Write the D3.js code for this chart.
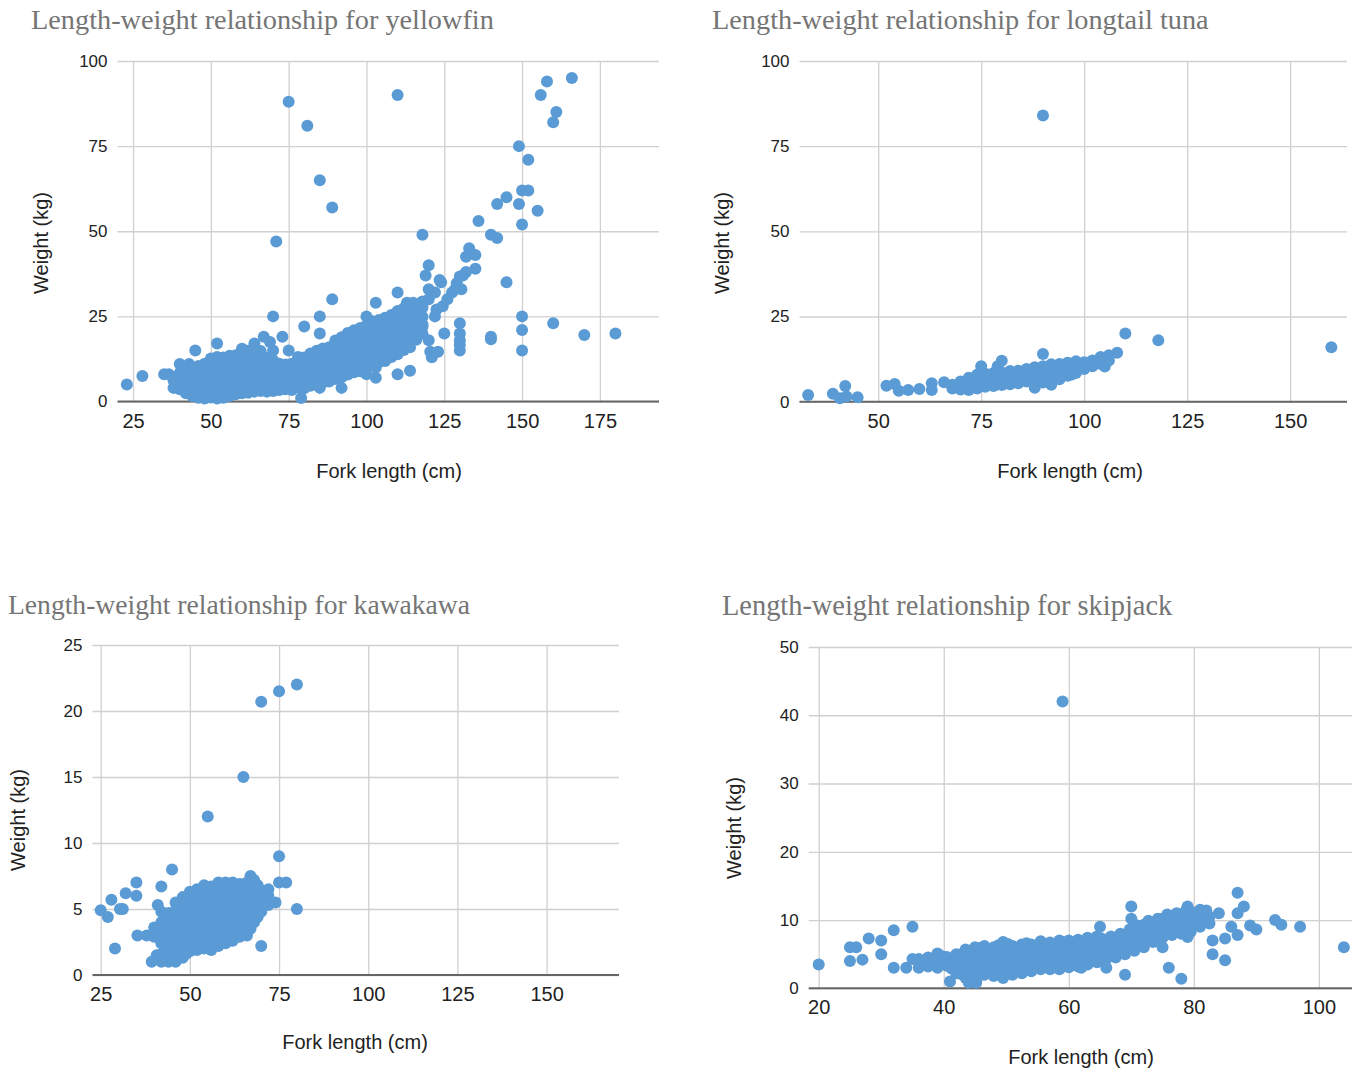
<!DOCTYPE html>
<html>
<head>
<meta charset="utf-8">
<script src="https://cdn.jsdelivr.net/npm/d3@7.9.0/dist/d3.min.js"></script>
<style>
  body { margin: 0; background: #fff; }
  svg { display: block; }
  .ptitle { font-family: "Liberation Serif", "Times New Roman", serif; fill: #757575; }
  .atitle { font-family: "Liberation Sans", Arial, sans-serif; fill: #222; }
  .tick text { font-family: "Liberation Sans", Arial, sans-serif; fill: #222; }
</style>
</head>
<body>
<svg id="chart" width="1352" height="1069"></svg>
<script>
const titles = [
    'Length-weight relationship for yellowfin',
    'Length-weight relationship for longtail tuna',
    'Length-weight relationship for kawakawa',
    'Length-weight relationship for skipjack'
];
const xLabel = 'Fork length (cm)';
const yLabel = 'Weight (kg)';

const yellowfinXTicks = [25, 50, 75, 100, 125, 150, 175];
const longtailXTicks = [50, 75, 100, 125, 150];
const kawakawaXTicks = [25, 50, 75, 100, 125, 150];
const skipjackXTicks = [20, 40, 60, 80, 100];
const yellowfinYTicks = [0, 25, 50, 75, 100];
const longtailYTicks = [0, 25, 50, 75, 100];
const kawakawaYTicks = [0, 5, 10, 15, 20, 25];
const skipjackYTicks = [0, 10, 20, 30, 40, 50];

// [fork length cm, weight kg]
const yellowfin = [
    [38,4],[38,6.2],[40,3.6],[40,6],[40,8.4],[42,2.4],[42,5.1],[42,7.4],[42,9.6],
    [44,1.6],[44,4.2],[44,6.4],[44,8.8],[46,1.1],[46,3.4],[46,6.1],[46,8.6],[46,10.4],
    [48,0.9],[48,3.6],[48,5.9],[48,8.4],[48,11.1],[50,1.2],[50,3.4],[50,6.2],[50,8.7],[50,10.9],[50,12.6],
    [52,0.9],[52,3.6],[52,5.8],[52,8.4],[52,11.2],[52,13.1],[54,1.1],[54,3.4],[54,6.1],[54,8.6],[54,10.8],[54,12.9],
    [56,1.6],[56,4.1],[56,6.4],[56,9.1],[56,11.6],[56,13.4],[58,2.1],[58,4.4],[58,7.1],[58,9.4],[58,12.1],[58,13.6],
    [60,2.4],[60,5.1],[60,7.4],[60,10.1],[60,12.4],[60,14.1],[62,2.6],[62,4.9],[62,7.6],[62,9.9],[62,12.6],[62,14.9],
    [64,2.9],[64,5.6],[64,7.9],[64,10.6],[64,12.9],[64,15.1],[66,3.1],[66,5.4],[66,8.1],[66,10.4],[66,13.1],[66,14.8],
    [68,2.9],[68,5.6],[68,7.9],[68,10.6],[68,12.8],[70,3.1],[70,5.4],[70,8.1],[70,10.4],[70,12.1],
    [72,3.4],[72,6.1],[72,8.4],[72,11.1],[74,3.6],[74,5.9],[74,8.6],[74,10.9],[76,3.4],[76,6.1],[76,8.4],[76,11.1],
    [78,4.1],[78,6.4],[78,9.1],[78,11.4],[78,13.1],[80,3.9],[80,6.6],[80,8.9],[80,11.6],[80,12.9],
    [82,4.6],[82,6.9],[82,9.6],[82,11.9],[82,14.1],[84,4.9],[84,7.6],[84,9.9],[84,12.6],[84,14.9],
    [86,5.6],[86,7.9],[86,10.6],[86,12.9],[86,15.6],[88,5.9],[88,8.6],[88,10.9],[88,13.6],[88,15.9],
    [90,6.6],[90,8.9],[90,11.6],[90,13.9],[90,16.6],[90,17.9],[92,7.1],[92,9.4],[92,12.1],[92,14.4],[92,17.1],[92,18.9],
    [94,7.9],[94,10.6],[94,12.9],[94,15.6],[94,17.9],[94,20.1],[96,8.6],[96,10.9],[96,13.6],[96,15.9],[96,18.6],[96,20.9],
    [98,8.9],[98,11.6],[98,13.9],[98,16.6],[98,18.9],[98,21.6],[100,10.1],[100,12.4],[100,15.1],[100,17.4],[100,20.1],[100,22.4],
    [102,10.9],[102,13.6],[102,15.9],[102,18.6],[102,20.9],[102,23.6],[104,11.6],[104,13.9],[104,16.6],[104,18.9],[104,21.6],[104,23.9],
    [106,11.9],[106,14.6],[106,16.9],[106,19.6],[106,21.9],[106,24.6],[108,13.1],[108,15.4],[108,18.1],[108,20.4],[108,23.1],[108,25.4],
    [110,13.9],[110,16.6],[110,18.9],[110,21.6],[110,23.9],[110,26.6],[112,15.1],[112,17.4],[112,20.1],[112,22.4],[112,25.1],[112,27.4],
    [114,15.9],[114,18.6],[114,20.9],[114,23.6],[114,25.9],[114,28.6],[116,18.1],[116,20.4],[116,23.1],[116,25.4],[116,28.1],
    [118,19.9],[118,22.6],[118,24.9],[118,27.6],[118,29.4],
    [23,5],[28,7.5],[35,8],[36.5,8],[40,11],[43,11],[45,15],[52,17],[60,15.5],[64,17],[67,19],[69,17.5],
    [70,15],[71,47],[70,25],[73,19],[75,15],[75,88],[80,22],[81,81],[85,25],[85,20],[85,65],[89,57],[89,30],
    [92,4],[79,1],[85,4],[100,25],[103,29],[103,10],[103,7],[100,8],[110,8],[114,9],[110,32],[110,90],
    [113,29],[115,29],[116,20],[118,22],[112,17],[107.5,14],[118,49],[119,37],[120,40],[120,30],[120,33],[122,32],
    [120,18],[120.5,14.6],[123,14.6],[121,13],[122,25],[122.5,27],[124.5,28],[125,20],[123.5,35.7],[124,35],
    [126,30],[127.5,32],[128.5,33],[129,34.7],[130,36.7],[130.5,33],[131,37],[132,38],[132,42.5],[133,45],
    [135,43],[135,39],[136,53],[130,23],[130,20],[130,18],[130,16.6],[130,15],[140,19],[140,18.3],[140,49],
    [142,48],[142,58],[145,60],[145,35],[149,58],[149,75],[150,62],[152,62],[150,52],[152,71],[155,56],
    [156,90],[158,94],[160,82],[161,85],[166,95],[150,25],[150,21],[150,15],[160,23],[170,19.5],[180,20]
];

const longtail = [
    [33,2],[39,2.3],[42,4.6],[40.7,1],[42.3,1.5],[45,1.3],[52,4.7],[54,5.2],[55,3.2],[57.3,3.4],[60,3.7],
    [63,5.4],[63,3.4],[66,5.7],[75,10.4],[79,10.4],[80,12],[90,14],[105,10.3],[108,14.4],[110,20],[118,18],
    [160,16],[90,84],[88,4.1],[92,5],[96,7.8],[97,8],
    [68,3.9],[68,5],[70,3.6],[70,5.9],[72,3.4],[72,5.6],[72,7],[74,3.9],[74,6.1],[74,7.9],
    [76,4.4],[76,6.6],[76,8.2],[78,4.6],[78,6.9],[78,8.4],[80,4.9],[80,7.1],[80,8.6],
    [82,5.1],[82,7.4],[82,9],[84,5.4],[84,7.6],[84,9.1],[86,5.9],[86,8.1],[86,9.6],
    [88,4.6],[88,6.9],[88,9.1],[88,10.1],[90,5.6],[90,7.9],[90,10.4],[92,5.4],[92,7.6],[92,9.9],[92,11],
    [94,6.6],[94,8.9],[94,11.1],[96,7.6],[96,9.9],[96,11.4],[98,8.4],[98,10.6],[98,11.9],
    [100,9.6],[100,11.6],[102,10.4],[102,12.1],[104,11.1],[104,13.1],[106,12.1],[106,13.6]
];

const kawakawa = [
    [25,4.9],[27,4.4],[28,5.7],[30.4,5],[31.2,5],[32,6.2],[35,7],[35,6],[29,2],[35.3,3],[37.9,3],
    [42,6.7],[45,8],[41,5.3],[42,4.8],[75,9],[75,7],[77,7],[80,5],[70,2.2],[55,12],[65,15],
    [70,20.7],[75,21.5],[80,22],[39.3,1],[40.7,1.5],
    [40,2.9],[40,3.6],[42,1],[42,1.6],[42,2.4],[42,3.2],[42,4],
    [44,1],[44,1.7],[44,2.4],[44,3.3],[44,4],[44,4.7],
    [46,1],[46,1.7],[46,2.5],[46,3.3],[46,4.1],[46,4.9],[46,5.5],
    [48,1.3],[48,2.1],[48,2.9],[48,3.7],[48,4.5],[48,5.3],[48,5.9],
    [50,1.8],[50,2.6],[50,3.4],[50,4.2],[50,5],[50,5.8],[50,6.3],
    [52,1.9],[52,2.7],[52,3.5],[52,4.3],[52,5.1],[52,5.9],[52,6.5],
    [54,2],[54,2.8],[54,3.6],[54,4.4],[54,5.2],[54,6],[54,6.8],
    [56,1.9],[56,2.7],[56,3.5],[56,4.3],[56,5.1],[56,5.9],[56,6.7],
    [58,2.2],[58,3],[58,3.8],[58,4.6],[58,5.4],[58,6.2],[58,7],
    [60,2.4],[60,3.2],[60,4],[60,4.8],[60,5.6],[60,6.4],[60,7],
    [62,2.6],[62,3.4],[62,4.2],[62,5],[62,5.8],[62,6.6],[62,7],
    [64,2.9],[64,3.7],[64,4.5],[64,5.3],[64,6.1],[64,6.9],
    [66,3],[66,3.8],[66,4.6],[66,5.4],[66,6.2],[66,7],[67,3.5],[67,7.5],
    [68,4],[68,4.8],[68,5.6],[68,6.4],[68,7.2],[70,4.8],[70,5.6],[70,6.4],
    [72,5.3],[72,6],[72,6.5],[74,5.5],
    [43,1.3],[43,2.1],[43,2.9],[43,3.7],[45,1.3],[45,2.1],[45,2.9],[45,3.7],[45,4.5],
    [47,1.4],[47,2.2],[47,3],[47,3.8],[47,4.6],[47,5.4],[49,1.6],[49,2.4],[49,3.2],[49,4],[49,4.8],[49,5.6],
    [51,2.2],[51,3],[51,3.8],[51,4.6],[51,5.4],[51,6.2],[53,2.4],[53,3.2],[53,4],[53,4.8],[53,5.6],[53,6.4],
    [55,2.3],[55,3.1],[55,3.9],[55,4.7],[55,5.5],[55,6.3],[57,2.3],[57,3.1],[57,3.9],[57,4.7],[57,5.5],[57,6.3],
    [59,2.6],[59,3.4],[59,4.2],[59,5],[59,5.8],[59,6.6],[61,2.8],[61,3.6],[61,4.4],[61,5.2],[61,6],[61,6.8],
    [63,3.1],[63,3.9],[63,4.7],[63,5.5],[63,6.3],[65,3.3],[65,4.1],[65,4.9],[65,5.7],[65,6.5],
    [69,4.4],[69,5.2],[69,6],[69,6.8]
];

const skipjack = [
    [20,3.5],[25,6],[26,6],[25,4],[27,4.2],[28,7.3],[30,7],[30,5],[32,8.5],[32,3],[34,3],[35,9],[35,4.3],
    [41,1],[44,1.9],[44,0.8],[45.2,0.8],[70,12],[70,10.2],[87,14],[88,12],[87,11],[93,10],[94,9.3],[97,9],
    [104,6],[89,9.2],[90,8.6],[87,7.8],[85,7.3],[85,4.1],[83,5],[83,7],[86,9],[84,11],[82,11.4],[79,12],
    [76,3],[78,1.4],[75,6],[69,2],[66,3],[72,6],[65,9],[62,3],[79,7.5],[59,42],
    [36,3],[36,4.3],[37.5,3.2],[37.5,4.5],[39,3],[39,4.3],[39,5.1],[40.5,3.3],[40.5,4.6],
    [42,2.2],[42,3.6],[42,5],[43.5,1.5],[43.5,2.9],[43.5,4.3],[43.5,5.7],
    [45,1.2],[45,2.6],[45,4],[45,5.4],[45,6],[46.5,2],[46.5,3.4],[46.5,4.8],[46.5,6.2],
    [48,1.8],[48,3.2],[48,4.6],[48,6],[49.5,1.5],[49.5,2.9],[49.5,4.3],[49.5,5.7],[49.5,6.8],
    [51,2],[51,3.4],[51,4.8],[51,6.2],[52.5,2.2],[52.5,3.6],[52.5,5],[52.5,6.4],
    [54,2.5],[54,3.9],[54,5.3],[54,6.4],[55.5,2.8],[55.5,4.2],[55.5,5.6],[55.5,6.9],
    [57,2.8],[57,4.2],[57,5.6],[57,6.7],[58.5,2.8],[58.5,4.2],[58.5,5.6],[58.5,7],
    [60,3.1],[60,4.5],[60,5.9],[60,7],[61.5,3.2],[61.5,4.6],[61.5,6],[61.5,7.1],
    [63,3.5],[63,4.9],[63,6.3],[63,7.4],[64.5,3.8],[64.5,5.2],[64.5,6.6],[64.5,7.6],
    [66,4.3],[66,5.7],[66,7.1],[67.5,4.5],[67.5,5.9],[67.5,7.3],[69,5],[69,6.4],[69,7.8],
    [70.5,5.5],[70.5,6.9],[70.5,8.3],[70.5,9.4],[72,6.5],[72,7.9],[72,9.3],
    [73.5,6.8],[73.5,8.2],[73.5,9.6],[75,7.4],[75,8.8],[75,10.2],[76.5,7.8],[76.5,9.2],[76.5,10.6],
    [78,8],[78,9.4],[78,10.8],[79.5,8.3],[79.5,9.7],[79.5,11.2],[81,9],[81,10.4],[81,11.5],
    [82.5,9.5],[82.5,10.5],
    [36.75,3.6],[38.25,3.8],[39.75,3.6],[39.75,4.7],[41.25,2.9],[41.25,4.2],
    [42.75,2.1],[42.75,3.6],[42.75,5],[44.25,1.3],[44.25,2.7],[44.25,4.1],[44.25,5.5],
    [45.75,1.9],[45.75,3.3],[45.75,4.7],[45.75,5.9],[47.25,2.5],[47.25,3.9],[47.25,5.3],
    [48.75,2.2],[48.75,3.6],[48.75,5],[48.75,6.3],[50.25,2.4],[50.25,3.8],[50.25,5.2],[50.25,6.5],
    [51.75,2.8],[51.75,4.2],[51.75,5.6],[53.25,3],[53.25,4.4],[53.25,5.8],[53.25,6.6],
    [54.75,3.3],[54.75,4.7],[54.75,6.1],[56.25,3.5],[56.25,4.9],[56.25,6.3],
    [57.75,3.5],[57.75,4.9],[57.75,6.3],[59.25,3.6],[59.25,5],[59.25,6.4],
    [60.75,3.8],[60.75,5.2],[60.75,6.6],[62.25,4],[62.25,5.4],[62.25,6.8],
    [63.75,4.3],[63.75,5.7],[63.75,7],[65.25,4.6],[65.25,6],[65.25,7.3],
    [66.75,5],[66.75,6.4],[66.75,7.6],[68.25,5.3],[68.25,6.7],[68.25,8],
    [69.75,5.8],[69.75,7.2],[69.75,8.6],[71.25,6.3],[71.25,7.7],[71.25,9.1],
    [72.75,7.2],[72.75,8.6],[72.75,9.9],[74.25,7.5],[74.25,8.9],[74.25,10.2],
    [75.75,8.1],[75.75,9.5],[75.75,10.8],[77.25,8.6],[77.25,10],[77.25,11],
    [78.75,8.8],[78.75,10.2],[78.75,11.4],[80.25,9.2],[80.25,10.6],[81.75,9.8],[81.75,11]
];

// layout of the four panels
const panels = [
    { title: titles[0], data: yellowfin, xTicks: yellowfinXTicks, yTicks: yellowfinYTicks,
      xDomain: [20, 194], yDomain: [0, 100],
      left: 117.5, right: 659, top: 61, bottom: 401.5, titleSize: 28.3,
      titlePos: [31, 29], yLabelPos: [41, 243], xLabelPos: [389, 478] },
    { title: titles[1], data: longtail, xTicks: longtailXTicks, yTicks: longtailYTicks,
      xDomain: [30.9, 163.8], yDomain: [0, 100],
      left: 799.5, right: 1347, top: 61, bottom: 401.7, titleSize: 28.3,
      titlePos: [712, 29], yLabelPos: [722, 243], xLabelPos: [1070, 478] },
    { title: titles[2], data: kawakawa, xTicks: kawakawaXTicks, yTicks: kawakawaYTicks,
      xDomain: [22.7, 170.3], yDomain: [0, 25],
      left: 92.5, right: 619, top: 645, bottom: 975, titleSize: 27.6,
      titlePos: [8, 614], yLabelPos: [18, 820], xLabelPos: [355, 1049] },
    { title: titles[3], data: skipjack, xTicks: skipjackXTicks, yTicks: skipjackYTicks,
      xDomain: [18.4, 105.3], yDomain: [0, 50],
      left: 808.7, right: 1352, top: 647, bottom: 988.3, titleSize: 28.4,
      titlePos: [722, 615], yLabelPos: [734, 828], xLabelPos: [1081, 1064] }
];

const svg = d3.select('#chart');

panels.forEach((p) => {
    const x = d3.scaleLinear().domain(p.xDomain).range([p.left, p.right]);
    const y = d3.scaleLinear().domain(p.yDomain).range([p.bottom, p.top]);
    const g = svg.append('g');

    // horizontal gridlines + y labels
    const yAxis = g.append('g')
        .attr('transform', `translate(${p.left},0)`)
        .call(d3.axisLeft(y).tickValues(p.yTicks).tickSize(-(p.right - p.left)).tickPadding(10));
    yAxis.select('.domain').remove();
    yAxis.selectAll('.tick line').attr('stroke', '#d0d0d0').attr('stroke-width', 1.3);
    yAxis.selectAll('.tick text').attr('font-size', 17);

    // vertical gridlines + x labels
    const xAxis = g.append('g')
        .attr('transform', `translate(0,${p.bottom})`)
        .call(d3.axisBottom(x).tickValues(p.xTicks).tickSize(-(p.bottom - p.top)).tickPadding(12));
    xAxis.select('.domain').remove();
    xAxis.selectAll('.tick line').attr('stroke', '#d0d0d0').attr('stroke-width', 1.3);
    xAxis.selectAll('.tick text').attr('font-size', 20);

    // baseline
    g.append('line')
        .attr('x1', p.left).attr('x2', p.right)
        .attr('y1', y(0)).attr('y2', y(0))
        .attr('stroke', '#666').attr('stroke-width', 2);

    g.append('g')
        .selectAll('circle')
        .data(p.data)
        .join('circle')
        .attr('cx', d => x(d[0]))
        .attr('cy', d => y(d[1]))
        .attr('r', 6)
        .attr('fill', '#5b9bd5');

    g.append('text')
        .attr('class', 'ptitle')
        .attr('x', p.titlePos[0]).attr('y', p.titlePos[1])
        .attr('font-size', p.titleSize)
        .text(p.title);

    g.append('text')
        .attr('class', 'atitle')
        .attr('text-anchor', 'middle')
        .attr('x', p.xLabelPos[0]).attr('y', p.xLabelPos[1])
        .attr('font-size', 20)
        .text(xLabel);

    g.append('text')
        .attr('class', 'atitle')
        .attr('text-anchor', 'middle')
        .attr('transform', `translate(${p.yLabelPos[0] + 7},${p.yLabelPos[1]}) rotate(-90)`)
        .attr('font-size', 20)
        .text(yLabel);
});
</script>
</body>
</html>
